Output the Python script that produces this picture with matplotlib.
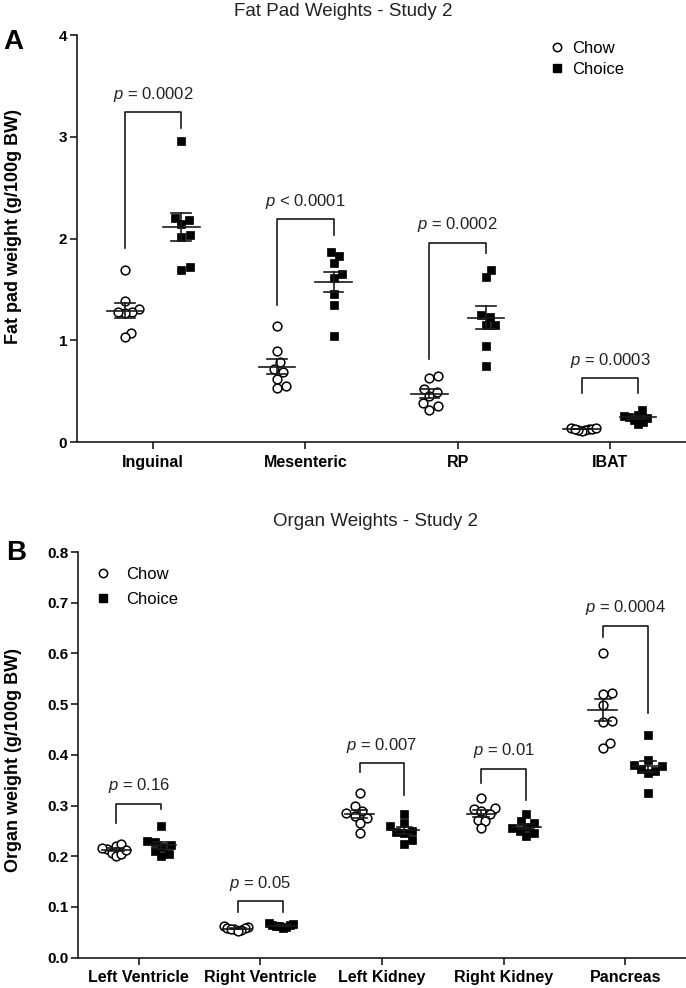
import matplotlib
matplotlib.use('Agg')
import matplotlib.pyplot as plt
from matplotlib.lines import Line2D
import numpy as np

plt.rcParams['font.family'] = 'Liberation Sans'
plt.rcParams['mathtext.fontset'] = 'custom'
plt.rcParams['mathtext.it'] = 'Liberation Sans:italic'
plt.rcParams['mathtext.rm'] = 'Liberation Sans'

# ---- panel A: fat pads ----
fat_names = ['Inguinal', 'Mesenteric', 'RP', 'IBAT']
fat_chow = [
    [1.69, 1.39, 1.31, 1.28, 1.27, 1.28, 1.07, 1.03],
    [1.14, 0.895, 0.72, 0.79, 0.69, 0.62, 0.53, 0.55],
    [0.626, 0.65, 0.495, 0.52, 0.45, 0.38, 0.354, 0.315],
    [0.14, 0.13, 0.12, 0.13, 0.11, 0.14, 0.12, 0.13],
]
fat_choice = [
    [2.96, 2.20, 2.18, 2.14, 2.03, 2.01, 1.69, 1.72],
    [1.83, 1.87, 1.76, 1.61, 1.65, 1.45, 1.35, 1.04],
    [1.69, 1.62, 1.23, 1.25, 1.15, 1.15, 0.944, 0.75],
    [0.31, 0.27, 0.26, 0.25, 0.24, 0.22, 0.20, 0.18],
]
fat_p = ['= 0.0002', '< 0.0001', '= 0.0002', '= 0.0003']
fat_br_top = [3.24, 2.19, 1.96, 0.626]
fat_br_left = [1.91, 1.35, 0.82, 0.478]
fat_br_right = [3.09, 2.035, 1.855, 0.478]

# ---- panel B: organs ----
org_names = ['Left Ventricle', 'Right Ventricle', 'Left Kidney', 'Right Kidney', 'Pancreas']
org_chow = [
    [0.215, 0.220, 0.225, 0.207, 0.200, 0.205, 0.217, 0.212],
    [0.060, 0.058, 0.062, 0.056, 0.055, 0.059, 0.057, 0.053],
    [0.325, 0.300, 0.290, 0.285, 0.280, 0.275, 0.265, 0.245],
    [0.315, 0.295, 0.293, 0.290, 0.283, 0.272, 0.270, 0.255],
    [0.600, 0.522, 0.520, 0.498, 0.466, 0.464, 0.423, 0.413],
]
org_choice = [
    [0.260, 0.230, 0.228, 0.222, 0.218, 0.210, 0.205, 0.200],
    [0.068, 0.066, 0.065, 0.064, 0.062, 0.060, 0.063, 0.058],
    [0.283, 0.265, 0.260, 0.250, 0.248, 0.245, 0.232, 0.225],
    [0.283, 0.270, 0.265, 0.258, 0.255, 0.250, 0.245, 0.240],
    [0.440, 0.390, 0.380, 0.378, 0.372, 0.368, 0.365, 0.325],
]
org_p = ['= 0.16', '= 0.05', '= 0.007', '= 0.01', '= 0.0004']
org_br_top = [0.304, 0.112, 0.383, 0.373, 0.655]
org_br_left = [0.265, 0.091, 0.367, 0.344, 0.633]
org_br_right = [0.293, 0.091, 0.321, 0.311, 0.482]

W, H = 686, 988
fig = plt.figure(figsize=(W / 100, H / 100), dpi=100)

OFF = 0.185
ink = '#1a1a1a'


def swarm(ax, xc, ys, diam=9.0, limit=14.0):
    ys = np.asarray(ys, float)
    pts = ax.transData.transform(np.column_stack([np.full(len(ys), xc), ys]))
    placed = []
    offs = np.zeros(len(ys))
    for i in np.argsort(pts[:, 1]):
        y = pts[i, 1]
        cands = [0.0]
        for px, py in placed:
            dy = y - py
            if abs(dy) < diam:
                dx = np.sqrt(diam ** 2 - dy ** 2)
                cands += [px + dx, px - dx]
        cands.sort(key=abs)
        for c in cands:
            if all((c - px) ** 2 + (y - py) ** 2 >= diam ** 2 - 1e-6 for px, py in placed):
                break
        placed.append((c, y))
        offs[i] = c
    m = np.abs(offs).max()
    if m > limit:
        offs *= limit / m
    back = ax.transData.inverted().transform(np.column_stack([pts[:, 0] + offs, pts[:, 1]]))
    return back[:, 0]


def panel(rect, names, chow, choice, ptxt, top, left, right, ylim, yticks, ylabels):
    ax = fig.add_axes(rect)
    ax.set_xlim(-0.5, len(names) - 0.5)
    ax.set_ylim(*ylim)
    for s in ['top', 'right']:
        ax.spines[s].set_visible(False)
    for s in ['left', 'bottom']:
        ax.spines[s].set_color(ink)
        ax.spines[s].set_linewidth(1.2)
    ax.spines['left'].set_bounds(ylim[0], yticks[-1])
    ax.set_xticks(range(len(names)))
    ax.set_xticklabels(names, fontweight='bold', fontsize=11.5)
    ax.set_yticks(yticks)
    ax.set_yticklabels(ylabels, fontweight='bold', fontsize=11)
    ax.tick_params(direction='out', length=5, width=1.2, color=ink, pad=2)
    ax.tick_params(axis='x', pad=4)
    for i in range(len(names)):
        for grp, dx, kw in [(chow[i], -OFF, dict(marker='o', ms=6.3, mfc='white', mec='black', mew=1.1)),
                            (choice[i], OFF, dict(marker='s', ms=5.6, mfc='black', mec='black', mew=0.5))]:
            xs = swarm(ax, i + dx, grp)
            ax.plot(xs, grp, ls='none', zorder=3, clip_on=False, **kw)
            mean = np.mean(grp)
            sem = np.std(grp, ddof=1) / np.sqrt(len(grp))
            xc = i + dx
            ax.plot([xc - 0.12, xc + 0.12], [mean, mean], color=ink, lw=1.2, zorder=4)
            ax.plot([xc, xc], [mean - sem, mean + sem], color=ink, lw=1.2, zorder=4)
            for yy in (mean - sem, mean + sem):
                ax.plot([xc - 0.065, xc + 0.065], [yy, yy], color=ink, lw=1.2, zorder=4)
        x1, x2 = i - OFF, i + OFF
        ax.plot([x1, x1, x2, x2], [left[i], top[i], top[i], right[i]], color=ink, lw=1.2)
        ax.annotate(r'$p$ ' + ptxt[i], xy=(i, top[i]), xytext=(0, 6), textcoords='offset points',
                    ha='center', va='bottom', fontsize=12, color='#222222')
    return ax


axA = panel([77 / W, 1 - 442 / H, 1 - 77 / W, (442 - 35) / H], fat_names, fat_chow, fat_choice,
            fat_p, fat_br_top, fat_br_left, fat_br_right, (0, 4), [0, 1, 2, 3, 4],
            ['0', '1', '2', '3', '4'])
axB = panel([78 / W, 1 - 957.7 / H, 1 - 78 / W, (957.7 - 552) / H], org_names, org_chow, org_choice,
            org_p, org_br_top, org_br_left, org_br_right, (0, 0.8), np.arange(0, 0.81, 0.1),
            ['%.1f' % v for v in np.arange(0, 0.81, 0.1)])

handles = [Line2D([], [], marker='o', ls='none', ms=6, mfc='white', mec='black', mew=1.1),
           Line2D([], [], marker='s', ls='none', ms=5.5, mfc='black', mec='black')]
fig.legend(handles, ['Chow', 'Choice'], loc='upper left', bbox_to_anchor=(549 / W, 1 - 41 / H),
           frameon=False, fontsize=12, borderpad=0, borderaxespad=0, handlelength=1,
           handletextpad=0.4, labelspacing=0.35)
fig.legend(handles, ['Chow', 'Choice'], loc='upper left', bbox_to_anchor=(95 / W, 1 - 567 / H),
           frameon=False, fontsize=12, borderpad=0, borderaxespad=0, handlelength=1,
           handletextpad=0.85, labelspacing=0.57)

fig.text(343.5 / W, 1 - 12 / H, 'Fat Pad Weights - Study 2', ha='center', va='center', fontsize=13.5, color='#222222')
fig.text(376 / W, 1 - 521.7 / H, 'Organ Weights - Study 2', ha='center', va='center', fontsize=13.5, color='#222222')
fig.text(13.5 / W, 1 - 42 / H, 'A', ha='center', va='center', fontsize=20, fontweight='bold')
fig.text(16 / W, 1 - 553 / H, 'B', ha='center', va='center', fontsize=20, fontweight='bold')
fig.text(14 / W, 1 - 226 / H, 'Fat pad weight (g/100g BW)', rotation=90, ha='center', va='center',
         fontsize=13, fontweight='bold')
fig.text(14 / W, 1 - 760 / H, 'Organ weight (g/100g BW)', rotation=90, ha='center', va='center',
         fontsize=13, fontweight='bold')

fig.savefig('out.png', dpi=100)
